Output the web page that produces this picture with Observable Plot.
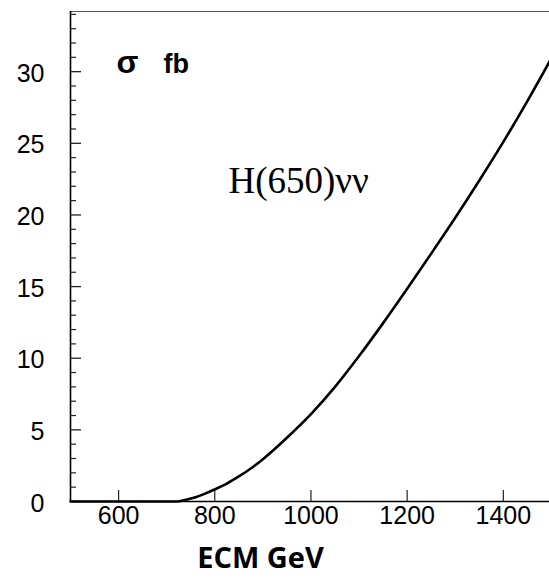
<!DOCTYPE html>
<html>
<head>
<meta charset="utf-8">
<script src="https://cdn.jsdelivr.net/npm/d3@7"></script>
<script src="https://cdn.jsdelivr.net/npm/@observablehq/plot@0.6"></script>
<style>
  html, body { margin: 0; padding: 0; background: #fff; }
  #chart svg { display: block; }
</style>
</head>
<body>
<div id="chart"></div>
<script>
// Data: sigma (fb) vs ECM (GeV) for H(650)νν
const ecm   = [500, 600, 700, 720, 740, 760, 780, 800, 825, 850, 875, 900, 950, 1000, 1050, 1100, 1150, 1200, 1250, 1300, 1350, 1400, 1450, 1500];
const sigma = [0,   0,   0,   0.0, 0.12, 0.3, 0.55, 0.85, 1.25, 1.75, 2.3, 2.95, 4.45, 6.1, 8.0, 10.15, 12.45, 14.85, 17.3, 19.8, 22.4, 25.1, 27.95, 30.95];

const xMajorTicks = [600, 800, 1000, 1200, 1400];
const yMajorTicks = [0, 5, 10, 15, 20, 25, 30];
const yMinorTicks = [1,2,3,4,6,7,8,9,11,12,13,14,16,17,18,19,21,22,23,24,26,27,28,29,31,32,33,34];

const xDomain = [500, 1496];
const yDomain = [0, 34.2];

const yLabel = "σ";
const yUnit = "fb";
const xTitle = "ECM GeV";
const processLabel = "H(650)νν";

const data = ecm.map((e, i) => ({ecm: e, sigma: sigma[i]}));

const W = 549, H = 577, mL = 70, mR = 0, mT = 11, mB = 76;
const plotW = W - mL - mR, plotH = H - mT - mB;
const sans = "'Liberation Sans', Arial, sans-serif";

const chart = Plot.plot({
  width: W,
  height: H,
  marginLeft: mL,
  marginRight: mR,
  marginTop: mT,
  marginBottom: mB,
  style: {background: "#fff", fontFamily: sans, color: "#000"},
  x: {domain: xDomain, axis: null},
  y: {domain: yDomain, axis: null},
  marks: [
    // frame lines
    Plot.ruleY([yDomain[1]], {stroke: "#555", strokeWidth: 1.2}),
    Plot.ruleX([xDomain[0]], {stroke: "#000", strokeWidth: 1.6}),
    Plot.ruleY([0], {stroke: "#000", strokeWidth: 1.4}),
    // inward ticks
    Plot.tickY(yMajorTicks, {y: d => d, insetRight: plotW - 11, stroke: "#222", strokeWidth: 1.3}),
    Plot.tickY(yMinorTicks, {y: d => d, insetRight: plotW - 6, stroke: "#222", strokeWidth: 1.2}),
    Plot.tickX(xMajorTicks, {x: d => d, insetTop: plotH - 11, stroke: "#222", strokeWidth: 1.2}),
    // tick labels
    Plot.axisY(yMajorTicks, {anchor: "left", tickSize: 0, tickPadding: 26, fontSize: 25, dy: 2, fill: "#000", label: null, tickFormat: d => String(d)}),
    Plot.axisX(xMajorTicks, {anchor: "bottom", tickSize: 0, tickPadding: 5, fontSize: 25, fill: "#000", label: null, tickFormat: d => String(d)}),
    // curve
    Plot.line(data, {x: "ecm", y: "sigma", stroke: "#000", strokeWidth: 2.6, curve: "monotone-x"}),
    // annotations
    Plot.text([yLabel], {frameAnchor: "top-left", dx: 46, dy: 61, lineAnchor: "bottom", textAnchor: "start",
      fontSize: 32, fontWeight: "bold", fontFamily: sans, fill: "#000"}),
    Plot.text([yUnit], {frameAnchor: "top-left", dx: 93, dy: 61, lineAnchor: "bottom", textAnchor: "start",
      fontSize: 27, fontWeight: "bold", fontFamily: sans, fill: "#000"}),
    Plot.text([processLabel], {frameAnchor: "top-left", dx: 158, dy: 181, lineAnchor: "bottom", textAnchor: "start",
      fontSize: 37, fontFamily: "'Liberation Serif', 'Times New Roman', serif", fill: "#000"}),
    Plot.text([xTitle], {frameAnchor: "bottom-left", dx: 190, dy: 66, lineAnchor: "bottom", textAnchor: "middle",
      fontSize: 29, fontWeight: "bold", fontFamily: "'Open Sans', sans-serif", fill: "#000"})
  ]
});

document.getElementById("chart").appendChild(chart);
</script>
</body>
</html>
